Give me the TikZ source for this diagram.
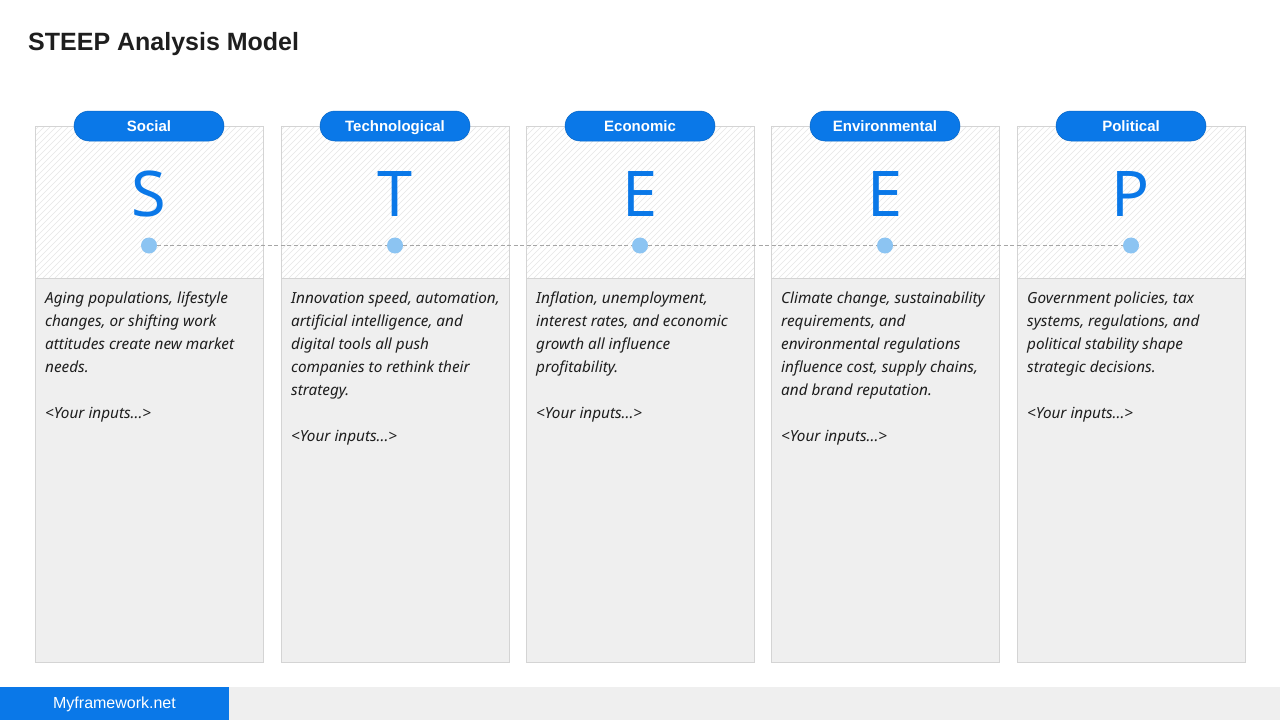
\documentclass[tikz,border=0pt]{standalone}
\usepackage{fontspec}
\setmainfont{Noto Sans}
\newfontfamily\titlefont{Liberation Sans}
\usetikzlibrary{calc}
\definecolor{brand}{HTML}{0A78E8}
\definecolor{dotblue}{HTML}{8CC4F2}
\definecolor{panel}{HTML}{EFEFEF}
\definecolor{edge}{HTML}{D4D4D4}
\definecolor{hatch}{HTML}{E6E6E6}
\definecolor{ink}{HTML}{1E1E1E}
\tikzset{
  pill/.style={fill=brand, draw=brand!85!black, line width=0.5pt, rounded corners=15pt, minimum width=150pt, minimum height=30pt, inner sep=0pt, text height=10.5pt, text depth=0pt, text=white, font=\titlefont\fontsize{15}{16}\selectfont\bfseries},
  bigletter/.style={text=brand, font=\fontsize{63}{63}\selectfont, inner sep=0pt, anchor=base},
  dotnode/.style={circle, fill=dotblue, minimum size=16pt, inner sep=0pt},
  body/.style={anchor=north west, align=left, inner sep=0pt, text=ink, font=\fontsize{15.3}{23}\selectfont\itshape},
  boxedge/.style={draw=edge, line width=0.8pt}
}
\begin{document}
\begin{tikzpicture}[x=1pt,y=-1pt]
\useasboundingbox (0,0) rectangle (1280,720);
\fill[white] (0,0) rectangle (1280,720);
\node[anchor=base west, inner sep=0pt, text=ink, font=\titlefont\fontsize{25}{28}\selectfont\bfseries] (title) at (28,50) {STEEP Analysis Model};
% columns
\foreach \i/\x/\L/\name in {1/35/S/Social,2/281/T/Technological,3/526/E/Economic,4/771/E/Environmental,5/1017/P/Political}{
  \begin{scope}
    \clip (\x,126) rectangle (\x+228,278);
    \foreach \k in {0,6,...,390}{
      \draw[hatch, line width=0.6pt] (\x-160+\k,278) -- (\x+\k,118);
    }
  \end{scope}
  \fill[panel] (\x,278) rectangle (\x+228,662);
  \draw[boxedge] (\x,126) rectangle (\x+228,662);
  \draw[boxedge] (\x,278) -- (\x+228,278);
  \node[bigletter] (L\i) at (\x+114,216) {\L};
  \node[dotnode] (d\i) at (\x+114,245.5) {};
  \node[pill] (p\i) at (\x+114,126) {\name};
}
\foreach \a/\b in {1/2,2/3,3/4,4/5}{
  \draw[gray!70, dash pattern=on 4pt off 2.5pt, line width=0.6pt] (d\a.east) -- (d\b.west);
}
\node[body] (t1) at (45,292) {Aging populations, lifestyle\\changes, or shifting work\\attitudes create new market\\needs.\\[23pt]<Your inputs...>};
\node[body] (t2) at (291,292) {Innovation speed, automation,\\artificial intelligence, and\\digital tools all push\\companies to rethink their\\strategy.\\[23pt]<Your inputs...>};
\node[body] (t3) at (536,292) {Inflation, unemployment,\\interest rates, and economic\\growth all influence\\profitability.\\[23pt]<Your inputs...>};
\node[body] (t4) at (781,292) {Climate change, sustainability\\requirements, and\\environmental regulations\\influence cost, supply chains,\\and brand reputation.\\[23pt]<Your inputs...>};
\node[body] (t5) at (1027,292) {Government policies, tax\\systems, regulations, and\\political stability shape\\strategic decisions.\\[23pt]<Your inputs...>};
% footer
\fill[panel] (229,687) rectangle (1280,720);
\fill[brand] (0,687) rectangle (229,720);
\node[text=white, font=\titlefont\fontsize{16}{18}\selectfont, inner sep=0pt] (foot) at (114.5,704) {Myframework.net};
\end{tikzpicture}
\end{document}
